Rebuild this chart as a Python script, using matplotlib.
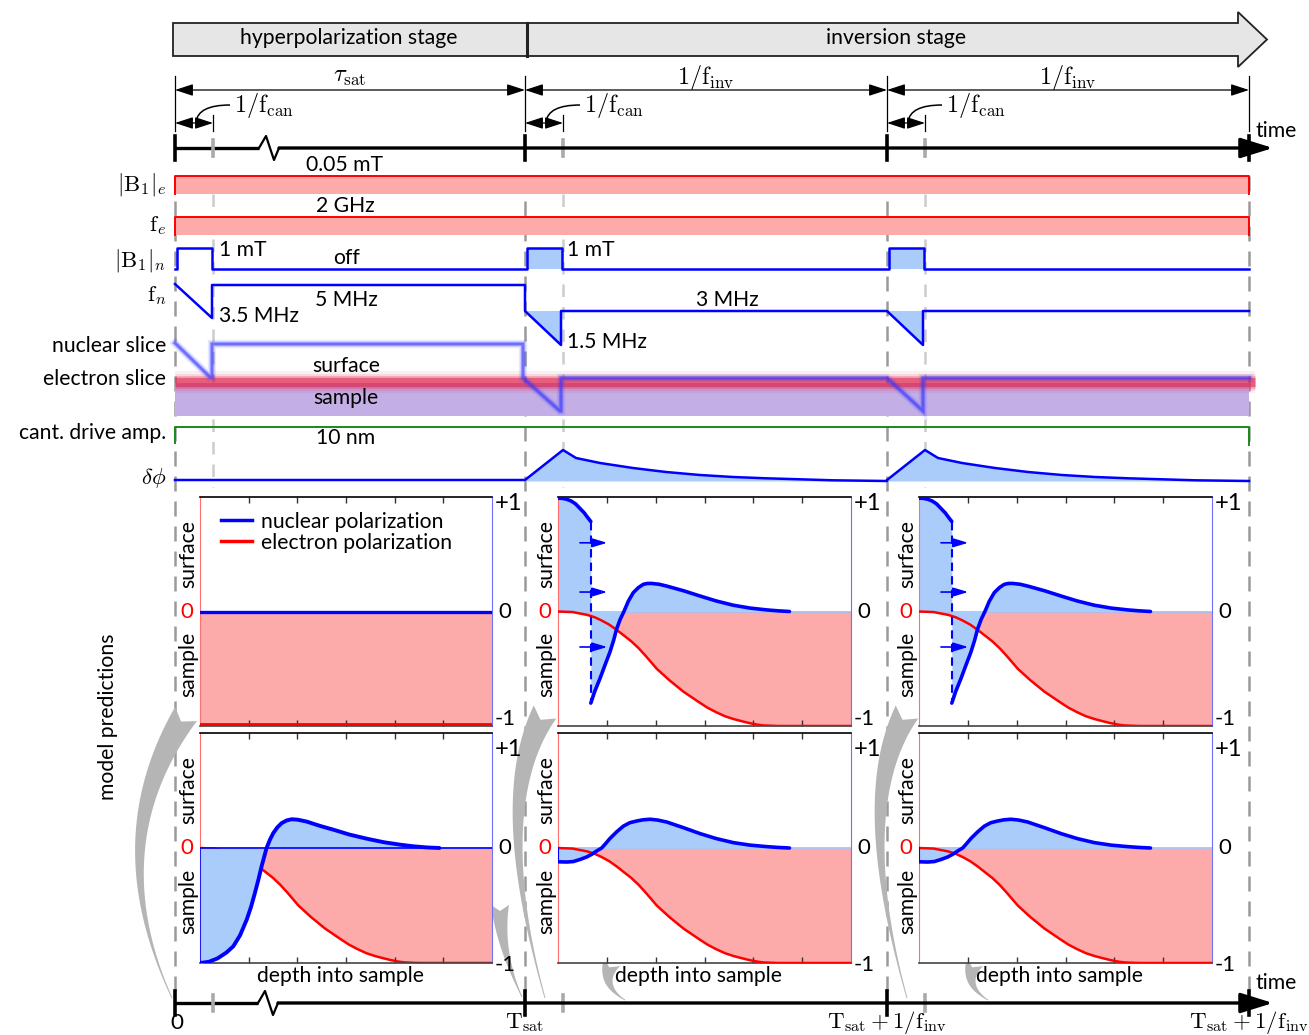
import numpy as np
import matplotlib
matplotlib.use("Agg")
import matplotlib.pyplot as plt
from matplotlib.patches import Polygon, Rectangle, PathPatch
from matplotlib.path import Path
from matplotlib.lines import Line2D

plt.rcParams['font.family'] = ['Lato', 'DejaVu Sans']
plt.rcParams['mathtext.fontset'] = 'cm'

# ---------------------------------------------------------------- layout
W, H = 1309, 1035
T_MARKS = [175, 525, 887, 1249]          # 0, T_sat, T_sat+1/f_inv, T_sat+2/f_inv
CAN = 38                                  # length of one cantilever period
GUIDES = [t + CAN for t in T_MARKS[:3]]

# ---------------------------------------------------------------- texts
stage_names = ['hyperpolarization stage', 'inversion stage']
row_labels = [r'$|\mathrm{B}_1|_e$', r'$\mathrm{f}_e$', r'$|\mathrm{B}_1|_n$', r'$\mathrm{f}_n$',
              'nuclear slice', 'electron slice', 'cant. drive amp.', r'$\delta\phi$']
row_label_y = [184, 226, 260, 296, 346, 379, 433, 478]
b1e_text, fe_text = '0.05 mT', '2 GHz'
b1n_on_text, b1n_off_text = '1 mT', 'off'
fn_texts = ['5 MHz', '3.5 MHz', '3 MHz', '1.5 MHz']
slice_texts = ['surface', 'sample']
drive_text = '10 nm'
period_texts = [r'$\tau_{\rm sat}$', r'$1/\mathrm{f}_{\rm inv}$', r'$1/\mathrm{f}_{\rm inv}$']
can_text = r'$1/\mathrm{f}_{\rm can}$'
time_tick_texts = ['0', r'$\mathrm{T}_{\rm sat}$', r'$\mathrm{T}_{\rm sat}+1/\mathrm{f}_{\rm inv}$',
                   r'$\mathrm{T}_{\rm sat}+1/\mathrm{f}_{\rm inv}$']

# ---------------------------------------------------------------- phase signal after each inversion
dphi_dt = [0, 13, 37, 70, 103, 137, 170, 203, 237, 270, 324]
dphi_h = [31, 23, 18, 13, 9, 6, 4, 2.7, 1.7, 0.7, 0]

# ---------------------------------------------------------------- polarization profiles (depth 0..1)
elec_x = [0, 0.05, 0.1, 0.125, 0.15, 0.175, 0.2, 0.225, 0.25, 0.275, 0.3, 0.337, 0.38, 0.428, 0.48,
          0.51, 0.54, 0.57, 0.6, 0.63, 0.654, 0.68, 0.7, 0.75, 1.0]
elec_p = [0, -0.005, -0.03, -0.05, -0.08, -0.115, -0.16, -0.21, -0.26, -0.32, -0.39, -0.5, -0.6, -0.70,
          -0.79, -0.84, -0.88, -0.915, -0.94, -0.96, -0.975, -0.988, -0.995, -1.0, -1.0]

init_x, init_nuc, init_elec = [0, 1], [0, 0], [-1, -1]

hyper_x = [0, 0.03, 0.06, 0.09, 0.114, 0.137, 0.16, 0.175, 0.188, 0.2, 0.211, 0.22, 0.228, 0.24,
           0.251, 0.265, 0.28, 0.297, 0.314, 0.335, 0.365, 0.41, 0.457, 0.51, 0.571, 0.63, 0.685,
           0.73, 0.776, 0.82]
hyper_p = [-1.0, -0.99, -0.96, -0.91, -0.855, -0.76, -0.623, -0.51, -0.391, -0.275, -0.159, -0.075, 0,
           0.075, 0.13, 0.18, 0.217, 0.24, 0.25, 0.246, 0.23, 0.193, 0.159, 0.118, 0.081, 0.05, 0.029,
           0.015, 0.005, 0]

inv_surf_x = [0, 0.015, 0.03, 0.045, 0.06, 0.075, 0.09, 0.1, 0.112]
inv_surf_p = [0.99, 0.988, 0.98, 0.965, 0.94, 0.9, 0.86, 0.825, 0.786]
inv_deep_x = [0.112, 0.125, 0.143, 0.16, 0.177, 0.19, 0.2, 0.212, 0.225, 0.24, 0.257, 0.275, 0.291,
              0.305, 0.32, 0.345, 0.371, 0.43, 0.485, 0.54, 0.598, 0.655, 0.712, 0.75, 0.79]
inv_deep_p = [-0.80, -0.70, -0.587, -0.47, -0.356, -0.25, -0.153, -0.07, 0, 0.09, 0.165, 0.21, 0.237,
              0.245, 0.245, 0.238, 0.222, 0.18, 0.135, 0.092, 0.055, 0.03, 0.014, 0.006, 0]

relax_x = [0, 0.03, 0.052, 0.075, 0.098, 0.115, 0.132, 0.149, 0.163, 0.177, 0.2, 0.223, 0.245,
           0.269, 0.29, 0.314, 0.34, 0.371, 0.43, 0.485, 0.54, 0.598, 0.655, 0.712, 0.75, 0.79]
relax_p = [-0.12, -0.122, -0.118, -0.1, -0.078, -0.055, -0.026, 0, 0.04, 0.082, 0.14, 0.19, 0.22,
           0.235, 0.245, 0.25, 0.243, 0.226, 0.175, 0.125, 0.082, 0.047, 0.025, 0.012, 0.005, 0]

PINK = '#fcaaaa'
LBLUE = '#aaccfa'
BLUE = '#0000ff'
RED = '#ff0000'
FS = 15.2
MS = 17.5

fig = plt.figure(figsize=(W / 100, H / 100), dpi=100)
ax = fig.add_axes([0, 0, 1, 1])
ax.set_xlim(0, W)
ax.set_ylim(H, 0)
ax.axis('off')


def txt(x, y, s, ha='center', va='center', size=FS, **kw):
    ax.text(x, y, s, ha=ha, va=va, fontsize=size, **kw)


# ---------------------------------------------------------------- stage bar
ax.add_patch(Rectangle((173, 23), 354, 33, fc='#e6e6e6', ec='#222222', lw=1.3, zorder=2))
ax.add_patch(Polygon([(527, 23), (1238, 23), (1238, 12), (1267, 39.5), (1238, 67), (1238, 56), (527, 56)],
                     closed=True, fc='#e6e6e6', ec='#222222', lw=1.3, zorder=2))
ax.plot([527, 527], [23, 56], color='#222222', lw=2.2, zorder=3)
txt(349, 38, stage_names[0])
txt(896, 38, stage_names[1])

# ---------------------------------------------------------------- period dimension lines
for i, t in enumerate(T_MARKS):
    ax.plot([t, t], [76, 131], color='black', lw=0.9)
arrow_kw = dict(arrowstyle='<|-|>,head_length=0.55,head_width=0.18', color='black', lw=0.9,
                shrinkA=0, shrinkB=0, mutation_scale=20)
for i in range(3):
    a, b = T_MARKS[i], T_MARKS[i + 1]
    ax.annotate('', xy=(b, 90), xytext=(a, 90), arrowprops=arrow_kw)
    txt((a + b) / 2, 77, period_texts[i], size=MS)
    g = GUIDES[i]
    ax.plot([g, g], [115, 131], color='black', lw=0.9)
    ax.annotate('', xy=(g, 123), xytext=(a, 123), arrowprops=arrow_kw)
    leader = Path([(a + 21, 122), (a + 23, 105), (a + 55, 105)], [Path.MOVETO, Path.CURVE3, Path.CURVE3])
    ax.add_patch(PathPatch(leader, fc='none', ec='black', lw=1.1))
    txt(a + 59, 106, can_text, ha='left', size=MS)


# ---------------------------------------------------------------- time axes
def time_axis(y, zig):
    ax.plot([175, zig], [y, y], color='black', lw=2.4, solid_capstyle='butt')
    ax.plot([zig, zig + 7, zig + 15, zig + 20], [y, y - 12, y + 12, y], color='black', lw=1.6)
    ax.annotate('', xy=(1273, y), xytext=(zig + 20, y),
                arrowprops=dict(arrowstyle='-|>,head_length=0.9,head_width=0.28', color='black', lw=2.4,
                                shrinkA=0, shrinkB=0, mutation_scale=22))
    for t in T_MARKS:
        ax.plot([t, t], [y - 12, y + 12], color='black', lw=2.6)
    for g in GUIDES:
        ax.plot([g, g], [y - 8, y + 8], color='#aaaaaa', lw=2.6)


time_axis(148, 259)
time_axis(1003, 258)
txt(1255, 131, 'time', ha='left')
txt(1255, 983, 'time', ha='left')
txt(177, 1023, time_tick_texts[0], size=FS + 1)
for t, s in zip(T_MARKS[1:], time_tick_texts[1:]):
    txt(t, 1023, s, size=16.5)

# ---------------------------------------------------------------- guide lines
for t in T_MARKS:
    ax.plot([t, t], [176, 995], color='#9a9a9a', lw=1.8, dashes=(6, 4), zorder=0)
for g in GUIDES:
    ax.plot([g, g], [194, 487], color='#cccccc', lw=1.8, dashes=(5, 4), zorder=0)

# ---------------------------------------------------------------- row labels
for s, y in zip(row_labels, row_label_y):
    txt(166, y, s, ha='right', size=16.5 if s.startswith('$') else FS)

# electron drive amplitude and frequency
for (y0, y1), s in zip([(176, 194), (217, 235)], [b1e_text, fe_text]):
    ax.add_patch(Rectangle((175, y0), 1074, y1 - y0, fc=PINK, ec='none', zorder=1))
    ax.plot([175, 175, 1249, 1249], [y1, y0, y0, y1], color=RED, lw=1.4, zorder=2)
    txt(345, y0 - 11, s)

# nuclear drive amplitude
xs, ys = [175], [269]
for k, t in enumerate(T_MARKS[:3]):
    a, b = t + 2, GUIDES[k] - 1
    xs += [a, a, b, b]
    ys += [269, 248, 248, 269]
    if k > 0:
        ax.fill_between([a, b], 248, 269, color=LBLUE, lw=0, zorder=1)
xs.append(1249)
ys.append(269)
ax.plot(xs, ys, color=BLUE, lw=1.8, zorder=3)
txt(219, 250, b1n_on_text, ha='left')
txt(567, 250, b1n_on_text, ha='left')
txt(346, 258, b1n_off_text)

# nuclear frequency sweeps
fn_x = [175, 212, 212, 525, 525, 561, 561, 887, 923, 923, 1249]
fn_y = [284, 318, 285, 285, 311, 345, 311, 311, 345, 311, 311]
for k in (1, 2):
    a, b = T_MARKS[k], GUIDES[k] - 2
    ax.fill([a, b, b], [311, 345, 311], color=LBLUE, lw=0, zorder=1)
ax.plot(fn_x, fn_y, color=BLUE, lw=1.8, zorder=3)
txt(346, 300, fn_texts[0])
txt(219, 316, fn_texts[1], ha='left')
txt(727, 300, fn_texts[2])
txt(567, 342, fn_texts[3], ha='left')

# slices
ax.add_patch(Rectangle((175, 383), 1074, 33, fc='#c4aee6', ec='none', zorder=1))
for lw, al in [(16, 0.07), (12, 0.12), (9, 0.3), (6.5, 0.5)]:
    ax.plot([175, 1255], [382, 382], color='#e0204a', lw=lw, alpha=al, solid_capstyle='butt', zorder=2)
ns_x = [175, 210, 212, 212, 523, 523, 560, 561, 561, 887, 923, 923, 1249]
ns_y = [343, 377, 377, 344, 344, 378, 411, 411, 378, 378, 411, 378, 378]
for lw, al in [(6, 0.12), (3.5, 0.3), (2, 0.55)]:
    ax.plot(ns_x, ns_y, color='#3a3aff', lw=lw, alpha=al, zorder=3, solid_joinstyle='miter')
txt(346, 366, slice_texts[0])
txt(346, 398, slice_texts[1])

# cantilever drive
ax.plot([175, 175, 1249, 1249], [443, 427, 427, 445], color='#1a8a1a', lw=1.4, zorder=2)
txt(346, 438, drive_text)

# frequency shift
dp_x, dp_y = [175, 525], [480, 480]
for k in (1, 2):
    a, g = T_MARKS[k], GUIDES[k]
    cx = [a] + [g + d for d in dphi_dt]
    cy = [480] + [481 - h for h in dphi_h]
    ax.fill_between(cx, cy, 481, color=LBLUE, lw=0, zorder=1)
    dp_x += cx
    dp_y += cy
ax.plot(dp_x, dp_y, color=BLUE, lw=1.8, zorder=3)


# ---------------------------------------------------------------- curved pointers
def swoosh(p0, p1, p2, w0, w1, notch, n=50):
    p0, p1, p2 = map(np.asarray, (p0, p1, p2))
    t = np.linspace(0, 1, n)[:, None]
    pts = (1 - t) ** 2 * p0 + 2 * (1 - t) * t * p1 + t ** 2 * p2
    d = 2 * (1 - t) * (p1 - p0) + 2 * t * (p2 - p1)
    nrm = np.hstack([-d[:, 1:2], d[:, 0:1]])
    nrm /= np.linalg.norm(nrm, axis=1)[:, None]
    w = w0 + (w1 - w0) * t ** 1.5
    left = pts + nrm * w / 2
    right = pts - nrm * w / 2
    back = pts[-1] - d[-1] / np.linalg.norm(d[-1]) * notch
    poly = np.vstack([left, [back], right[::-1]])
    ax.add_patch(Polygon(poly, closed=True, fc='#b5b5b5', ec='none', zorder=1))


swoosh((172, 998), (101, 844), (186, 714), 1, 26, 9)
swoosh((545, 998), (491, 805), (545, 712), 1, 26, 9)
swoosh((907, 998), (853, 805), (907, 712), 1, 26, 9)
swoosh((522, 997), (500, 950), (500, 905), 1, 18, 6)
swoosh((625, 1000), (600, 985), (612, 962), 1, 18, 6)
swoosh((988, 1000), (963, 985), (975, 962), 1, 18, 6)

txt(108, 717, 'model predictions', rotation=90)

# ---------------------------------------------------------------- model panels
COLS = [(200, 492), (558, 851), (919, 1212)]
ROWS = [(497, 726), (733, 963)]


def panel(col, row):
    (x0, x1), (y0, y1) = COLS[col], ROWS[row]
    pa = fig.add_axes([x0 / W, 1 - y1 / H, (x1 - x0) / W, (y1 - y0) / H])
    pa.set_xlim(0, 1)
    pa.set_ylim(-1, 1)
    pa.set_yticks([])
    pa.set_xticks([1 / 6, 2 / 6, 3 / 6, 4 / 6, 5 / 6])
    pa.tick_params(axis='x', direction='in', top=True, bottom=True, length=4, width=1,
                   labelbottom=False, colors='#333333')
    pa.spines['top'].set_color('black')
    pa.spines['bottom'].set_color('#444444')
    pa.spines['top'].set_linewidth(1.2)
    pa.spines['bottom'].set_linewidth(1.2)
    pa.spines['left'].set_color('#ff7070')
    pa.spines['right'].set_color('#7070ff')
    pa.axhline(0, color='#a8bdf0', lw=1.2, zorder=2)
    top_lab_y = 0.97 if row == 0 else 0.93
    pa.text(1.01, top_lab_y, '+1', transform=pa.transAxes, ha='left', va='center', fontsize=17)
    pa.text(1.045, 0.5, '0', transform=pa.transAxes, ha='center', va='center', fontsize=16)
    pa.text(1.045, -0.01 if row == 1 else 0.03, '-1', transform=pa.transAxes, ha='center', va='center',
            fontsize=16)
    pa.text(-0.045, 0.5, '0', color=RED, transform=pa.transAxes, ha='center', va='center', fontsize=16)
    pa.text(-0.04, 0.75, 'surface', rotation=90, transform=pa.transAxes, ha='center', va='center', fontsize=FS)
    pa.text(-0.04, 0.27, 'sample', rotation=90, transform=pa.transAxes, ha='center', va='center', fontsize=FS)
    if row == 1:
        pa.text(0.48, -0.055, 'depth into sample', transform=pa.transAxes, ha='center', va='center',
                fontsize=FS)
    return pa


# initial state
pa = panel(0, 0)
pa.fill_between(init_x, init_elec, 0, color=PINK, lw=0, zorder=1)
pa.plot(init_x, [-0.985, -0.985], color=RED, lw=2, zorder=4)
pa.plot(init_x, init_nuc, color=BLUE, lw=2.4, zorder=5)
pa.legend(handles=[Line2D([], [], color=BLUE, lw=2.5), Line2D([], [], color=RED, lw=2.5)],
          labels=['nuclear polarization', 'electron polarization'], loc='upper left',
          bbox_to_anchor=(0.02, 1.0), frameon=False, fontsize=FS, handlelength=1.5,
          handletextpad=0.4, labelspacing=0.05, borderaxespad=0.3)

# right after each inversion sweep
for col in (1, 2):
    pa = panel(col, 0)
    pa.fill_between(elec_x, elec_p, 0, color=PINK, lw=0, zorder=1)
    pa.fill_between(inv_surf_x, inv_surf_p, 0, color=LBLUE, lw=0, zorder=2)
    pa.fill_between(inv_deep_x, inv_deep_p, 0, color=LBLUE, lw=0, zorder=2)
    pa.plot(elec_x, elec_p, color=RED, lw=1.8, zorder=4)
    pa.plot(inv_surf_x, inv_surf_p, color=BLUE, lw=2.6, zorder=5, solid_capstyle='round')
    pa.plot(inv_deep_x, inv_deep_p, color=BLUE, lw=2.6, zorder=5, solid_capstyle='round')
    pa.plot([inv_surf_x[-1], inv_deep_x[0]], [inv_surf_p[-1], inv_deep_p[0]], color=BLUE, lw=1.5,
            dashes=(4, 2.5), zorder=5)
    for ya in (0.6, 0.17, -0.31):
        pa.annotate('', xy=(0.168, ya), xytext=(0.075, ya),
                    arrowprops=dict(arrowstyle='-|>,head_length=0.5,head_width=0.15', color=BLUE, lw=1.2,
                                    shrinkA=0, shrinkB=0, mutation_scale=18), zorder=6)

# end of hyperpolarization
pa = panel(0, 1)
pa.fill_between(elec_x, elec_p, 0, color=PINK, lw=0, zorder=1)
pa.plot(elec_x, elec_p, color=RED, lw=1.8, zorder=2)
pa.fill_between(hyper_x, hyper_p, 0, color=LBLUE, lw=0, zorder=3)
pa.plot([0, 0], [0, hyper_p[0]], color=BLUE, lw=1.2, zorder=4)
pa.plot(hyper_x, hyper_p, color=BLUE, lw=2.8, zorder=5, solid_capstyle='round')
pa.plot([0, 1], [0, 0], color=BLUE, lw=1.2, zorder=4)

# after relaxation over one inversion period
for col in (1, 2):
    pa = panel(col, 1)
    pa.fill_between(elec_x, elec_p, 0, color=PINK, lw=0, zorder=1)
    pa.fill_between(relax_x, relax_p, 0, color=LBLUE, lw=0, zorder=2)
    pa.plot(elec_x, elec_p, color=RED, lw=1.8, zorder=4)
    pa.plot([0, 0], [0, relax_p[0]], color=BLUE, lw=1.5, zorder=5)
    pa.plot(relax_x, relax_p, color=BLUE, lw=2.6, zorder=5, solid_capstyle='round')

fig.savefig('out.png', dpi=100)
